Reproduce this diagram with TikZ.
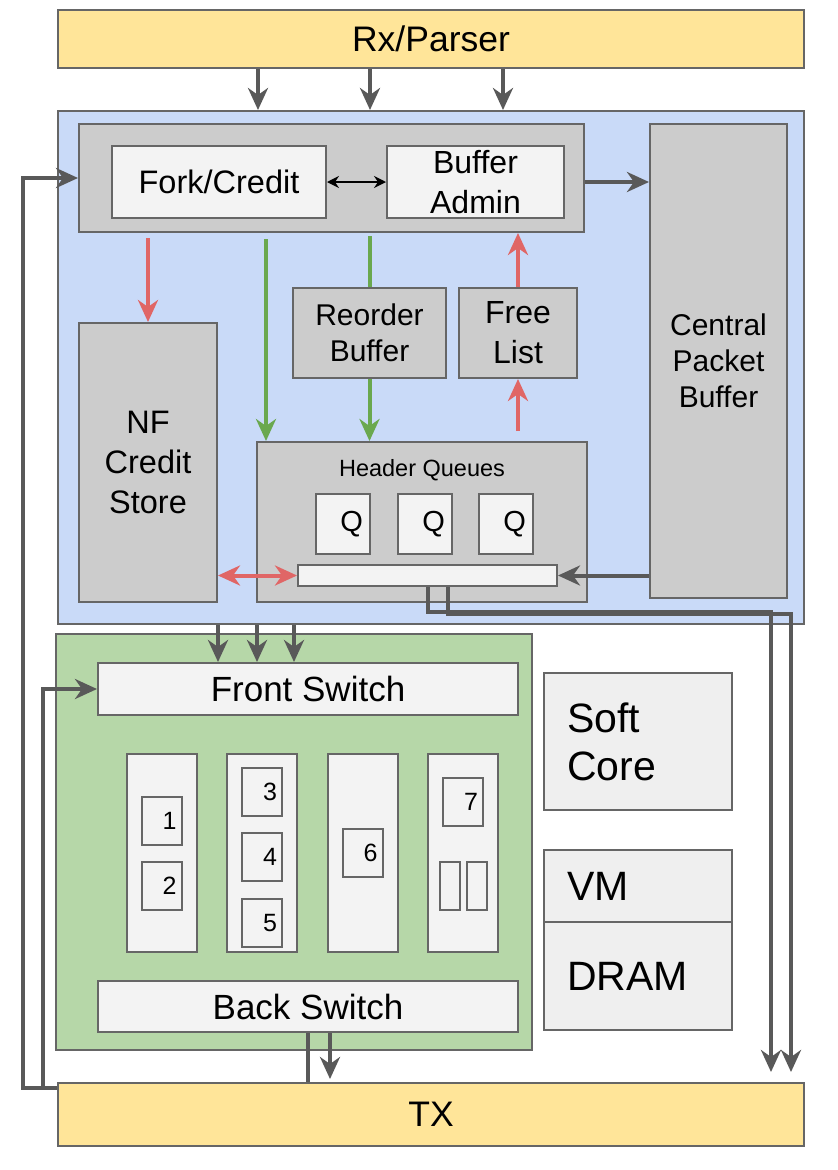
\documentclass[tikz,border=0pt]{standalone}
\usepackage{fontspec}
\setmainfont{Liberation Sans}
\usepackage{tikz}
\usetikzlibrary{positioning, arrows.meta}
\usepackage{xcolor}

\definecolor{rxyellow}{HTML}{FFE599}
\definecolor{pktblue}{HTML}{C9DAF8}
\definecolor{nfgreen}{HTML}{B6D7A8}
\definecolor{panelgray}{HTML}{CCCCCC}
\definecolor{cellwhite}{HTML}{F3F3F3}
\definecolor{softgray}{HTML}{EFEFEF}
\definecolor{edgegray}{HTML}{666666}
\definecolor{arrowgray}{HTML}{595959}
\definecolor{creditred}{HTML}{E06666}
\definecolor{pathgreen}{HTML}{6AA84F}

\newcommand{\setfs}[2]{\fontsize{#1}{#2}\selectfont}

\pgfdeclarelayer{front}
\pgfsetlayers{main,front}

\begin{document}
\begin{tikzpicture}[
    x=1pt, y=-1pt,
    sz/.style 2 args={minimum width=#1pt, minimum height=#2pt},
    box/.style={draw=edgegray, line width=2pt, inner sep=0pt, align=center},
    panel/.style={box, fill=panelgray},
    cell/.style={box, fill=cellwhite},
    numbox/.style={cell, sz={40}{48}, text width=30pt, align=right, font=\setfs{25}{30}},
    softbox/.style={box, fill=softgray, text width=142pt, align=left, font=\setfs{41}{48}},
    dkarrow/.style={draw=arrowgray, line width=4pt, -{Stealth[length=22pt, width=20pt, inset=7pt]}},
    redarrow/.style={draw=creditred, line width=4pt, -{Stealth[length=22pt, width=20pt, inset=7pt]}},
    redboth/.style={draw=creditred, line width=4pt, {Stealth[length=22pt, width=20pt, inset=7pt]}-{Stealth[length=22pt, width=20pt, inset=7pt]}},
    grnarrow/.style={draw=pathgreen, line width=4pt, -{Stealth[length=22pt, width=20pt, inset=7pt]}},
    grnline/.style={draw=pathgreen, line width=4pt},
    thinboth/.style={draw=black, line width=1.5pt, {Stealth[length=12pt, width=12pt, inset=4pt]}-{Stealth[length=12pt, width=12pt, inset=4pt]}}
]
\useasboundingbox (0,0) rectangle (838,1170);

% Parser on top
\node (rx) [box, fill=rxyellow, sz={746}{58}, font=\setfs{35.5}{42}] at (431,39) {Rx/Parser};

% Packet block
\node (blue) [box, fill=pktblue, sz={746}{513}] at (431,367.5) {};
\node (core) [panel, sz={505}{108}] at (331.5,178) {};
\node (fork) [cell, sz={214}{72}, font=\setfs{32.5}{38}] at (219,182) {Fork/Credit};
\node (admin) [cell, sz={177}{72}, font=\setfs{32}{40}] at (475.5,182) {Buffer\\Admin};
\node (cpb) [panel, sz={137}{474}, font=\setfs{30}{36}] at (718.5,361) {Central\\Packet\\Buffer};
\node (nfcs) [panel, sz={138}{279}, font=\setfs{32.5}{40}] at (148,462.5) {NF\\Credit\\Store};
\node (rob) [panel, sz={153}{90}, font=\setfs{30}{36}] at (369.5,333) {Reorder\\Buffer};
\node (free) [panel, sz={118}{90}, font=\setfs{32}{40}] at (518,333) {Free\\List};

% Header queues
\node (hq) [panel, sz={330}{160}] at (422,522) {};
\node (hqtitle) [font=\setfs{23.5}{28}] at (422,470) {Header Queues};
\foreach \i/\x in {1/343, 2/425, 3/506}
  \node (q\i) [cell, sz={54}{60}, text width=40pt, align=right, font=\setfs{29}{34}] at (\x,524) {Q};
\node (bar) [cell, sz={259}{21}] at (427.5,575.5) {};

% NF block
\node (nfpanel) [box, fill=nfgreen, sz={476}{416}] at (294,842) {};
\node (front) [cell, sz={420}{52}, font=\setfs{35}{40}] at (308,689) {Front Switch};
\node (back) [cell, sz={420}{51}, font=\setfs{35}{40}] at (308,1006.5) {Back Switch};
\foreach \i/\x in {1/161.5, 2/262, 3/363, 4/463}
  \node (col\i) [cell, sz={70}{198}] at (\x,853) {};
\node (nf1) [numbox] at (161.5,820.5) {1};
\node (nf2) [numbox] at (161.5,886) {2};
\node (nf3) [numbox] at (262,791.5) {3};
\node (nf4) [numbox] at (262,857) {4};
\node (nf5) [numbox] at (262,923) {5};
\node (nf6) [numbox] at (362.5,853) {6};
\node (nf7) [numbox] at (463,802) {7};
\node (slotA) [cell, sz={20}{48}] at (450,886) {};
\node (slotB) [cell, sz={20}{48}] at (476.5,886) {};

% Soft core and memory
\node (soft) [softbox, sz={188}{137}] at (638,741.5) {Soft\\Core};
\node (vm) [softbox, sz={188}{72}] at (638,886) {VM};
\node (dram) [softbox, sz={188}{108}] at (638,976) {DRAM};

% TX sits over the loop lines
\begin{pgfonlayer}{front}
\node (tx) [box, fill=rxyellow, sz={746}{63}, font=\setfs{35.5}{42}] at (431,1114.5) {TX};
\end{pgfonlayer}

% Connectors
\foreach \x in {258, 370, 503}
  \draw [dkarrow] (rx.south -| \x,0) -- (blue.north -| \x,0);
\draw [thinboth] (fork) -- (admin);
\draw [dkarrow] ([yshift=-4pt]core.east) -- ([yshift=-4pt]core.east -| cpb.west);
\draw [redarrow, shorten <=5pt] (core.south -| nfcs.north) -- (nfcs.north);
\draw [grnarrow, shorten <=6pt] (core.south -| 266,0) -- (hq.north -| 266,0);
\draw [grnline, shorten <=3pt] (core.south -| rob.north) -- (rob.north);
\draw [grnarrow] (rob.south) -- (rob.south |- hq.north);
\draw [redarrow, shorten <=10pt] (hq.north -| free.south) -- (free.south);
\draw [redarrow] (free.north) -- (free.north |- core.south);
\draw [redboth] (nfcs.east |- bar.west) -- (bar.west);
\draw [dkarrow] (cpb.west |- bar.east) -- (bar.east);
\draw [dkarrow, shorten >=10pt] (bar.south) -- ++(0,25) -| ([xshift=340pt]tx.north);
\draw [dkarrow, shorten >=10pt] ([xshift=20pt]bar.south) -- ++(0,27) -| ([xshift=360pt]tx.north);
\foreach \x in {218, 257, 294}
  \draw [dkarrow] (blue.south -| \x,0) -- (front.north -| \x,0);
\draw [dkarrow, shorten >=3pt] ([xshift=22pt]back.south) -- ([xshift=22pt]back.south |- tx.north);

% Loop back from the back switch
\coordinate (loopA) at (23,1088);
\coordinate (loopB) at (43,1088);
\draw [dkarrow] (back.south) |- (loopA) |- (core.west);
\draw [dkarrow] (back.south) |- (loopB) |- (front.west);

\end{tikzpicture}
\end{document}
